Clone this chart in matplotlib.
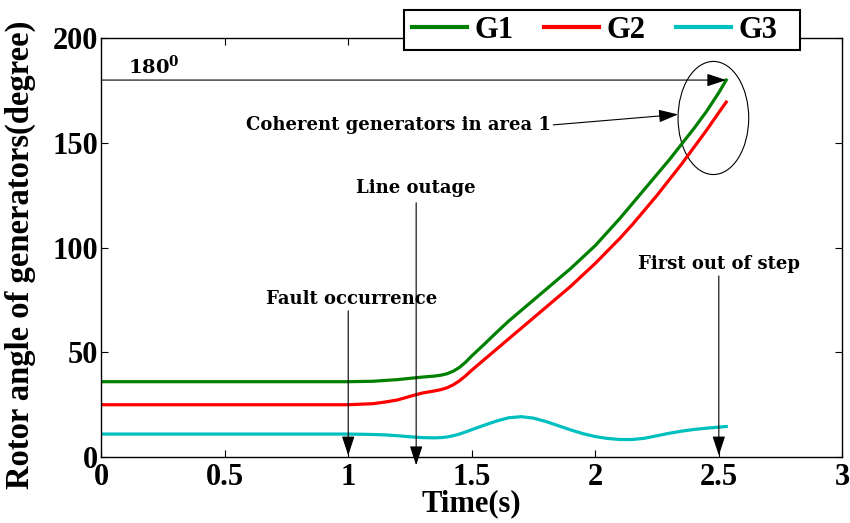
import matplotlib
matplotlib.use("Agg")
import matplotlib.pyplot as plt
from matplotlib.patches import Ellipse, Rectangle

# ---- data ----
time = [0, 0.5, 1.0, 1.1, 1.15, 1.2, 1.25, 1.3, 1.35, 1.375, 1.4, 1.425, 1.45,
        1.475, 1.5, 1.55, 1.6, 1.65, 1.7, 1.75, 1.8, 1.85, 1.9, 1.95, 2.0,
        2.05, 2.1, 2.15, 2.2, 2.25, 2.3, 2.35, 2.4, 2.45, 2.5, 2.53]
g1 = [36, 36, 36, 36.2, 36.6, 37.0, 37.6, 38.2, 38.7, 39.1, 39.8, 41.0, 42.8,
      45.3, 48.3, 53.8, 59.5, 65, 70, 75, 80, 85, 90, 95.5, 101,
      107.5, 114, 121, 128, 135, 142, 149.5, 157, 165, 174, 180]
g2 = [25, 25, 25, 25.5, 26.3, 27.3, 29, 30.6, 31.6, 32.2, 33.1, 34.5, 36.4,
      38.8, 41.5, 46.5, 51.5, 56.5, 61.5, 66.5, 71.5, 76.5, 81.5, 87, 92.5,
      98.5, 104.5, 111, 118, 125, 132.5, 140, 148, 156, 164.5, 169.5]
g3 = [11, 11, 11, 10.8, 10.6, 10.2, 9.7, 9.3, 9.2, 9.3, 9.6, 10.2, 11.0,
      12.0, 13.1, 15.2, 17.2, 18.8, 19.3, 18.6, 17.0, 15.0, 13.0, 11.2, 9.8,
      8.9, 8.4, 8.4, 9.0, 10.2, 11.4, 12.4, 13.2, 13.8, 14.3, 14.6]
series_names = ["G1", "G2", "G3"]
series_colors = ["#008000", "#ff0000", "#00bfbf"]
xticks = [0, 0.5, 1, 1.5, 2, 2.5, 3]
xtick_labels = ["0", "0.5", "1", "1.5", "2", "2.5", "3"]
yticks = [0, 50, 100, 150, 200]
ytick_labels = ["0", "50", "100", "150", "200"]

plt.rcParams["font.family"] = ["Liberation Serif", "DejaVu Serif"]
plt.rcParams["font.weight"] = "bold"
plt.rcParams["mathtext.fontset"] = "dejavuserif"

fig = plt.figure(figsize=(8.5, 5.23), dpi=100)
ax = fig.add_axes([0.119, 0.126, 0.872, 0.801])

for ys, name, col in zip([g1, g2, g3], series_names, series_colors):
    ax.plot(time, ys, color=col, lw=2.3, label=name)

ax.set_xlim(0, 3)
ax.set_ylim(0, 200)
ax.set_xticks(xticks)
ax.set_xticklabels(xtick_labels)
ax.set_yticks(yticks)
ax.set_yticklabels(ytick_labels)
ax.tick_params(direction="in", length=5, width=0.8, top=True, right=True,
               labelsize=22)
ax.tick_params(axis="x", pad=4)
ax.tick_params(axis="y", pad=2)
for s in ax.spines.values():
    s.set_linewidth(1.0)

ax.set_xlabel("Time(s)", fontsize=22, fontweight="bold", labelpad=-2)
ax.set_ylabel("Rotor angle of generators(degree)", fontsize=23.5,
              fontweight="bold")
ax.yaxis.set_label_coords(-0.088, 0.482)

# legend frame (MATLAB-style box) + legend entries
ax.add_patch(Rectangle((0.408, 0.971), 0.535, 0.096, transform=ax.transAxes,
                       facecolor="white", edgecolor="black", lw=1.5,
                       clip_on=False, zorder=6))
leg = ax.legend(loc="center left", bbox_to_anchor=(0.419, 1.019), ncol=3,
                fontsize=22, frameon=False, handlelength=1.8,
                handletextpad=0.25, columnspacing=1.0, borderpad=0,
                borderaxespad=0)
leg.set_zorder(7)
for line in leg.get_lines():
    line.set_linewidth(3)

afont = dict(family="DejaVu Serif", fontweight="bold", fontsize=13)
arrow = dict(arrowstyle="-|>,head_length=0.85,head_width=0.28", color="black",
             lw=0.8, shrinkA=0, shrinkB=0, mutation_scale=14)

# 180 degree line
ax.annotate("", xy=(2.53, 180), xytext=(0, 180), arrowprops=arrow,
            annotation_clip=False)
ax.text(0.11, 181.3, r"$\mathbf{180^0}$", fontsize=14, ha="left",
        va="bottom")

# Coherent generators
ax.annotate("Coherent generators in area 1", xy=(2.335, 163.6),
            xytext=(1.202, 158.5), ha="center", va="center",
            arrowprops=dict(arrow, relpos=(1.0, 0.5)), **afont)
ax.add_patch(Ellipse((2.478, 161.9), 0.286, 54, fill=False, ec="black",
                     lw=0.8))

# Line outage
ax.text(1.272, 128.4, "Line outage", ha="center", va="center", **afont)
ax.annotate("", xy=(1.275, -3.9), xytext=(1.275, 121.4), arrowprops=arrow,
            annotation_clip=False)
# Fault occurrence
ax.text(1.012, 75.6, "Fault occurrence", ha="center", va="center", **afont)
ax.annotate("", xy=(1.0, 0.8), xytext=(1.0, 69.8), arrowprops=arrow,
            annotation_clip=False)
# First out of step
ax.text(2.502, 92.2, "First out of step", ha="center", va="center", **afont)
ax.annotate("", xy=(2.5, 0.8), xytext=(2.5, 86.5), arrowprops=arrow,
            annotation_clip=False)

fig.savefig("out.png", dpi=100)
